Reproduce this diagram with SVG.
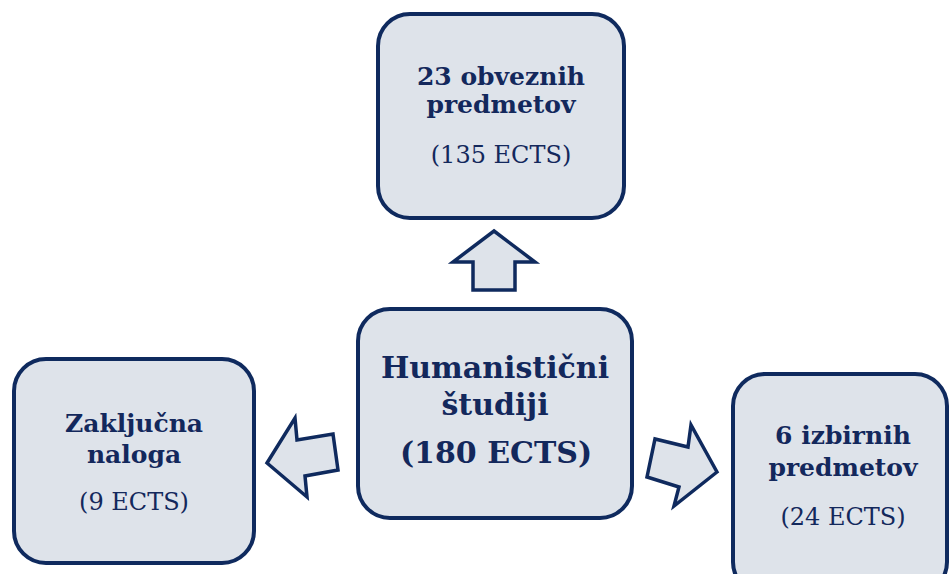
<svg xmlns="http://www.w3.org/2000/svg" width="950" height="574" viewBox="0 0 950 574">
<style>
.box{fill:#dee3ea;stroke:#0f2a5e;stroke-width:4}
.arr{fill:#dee3ea;stroke:#0f2a5e;stroke-width:3.5;stroke-linejoin:miter}
text{font-family:"DejaVu Serif","Liberation Serif",serif;fill:#13285c;text-anchor:middle}
.b{font-weight:bold;font-size:25px}
.r{font-size:24px}
.c{font-weight:bold;font-size:30px}
</style>
<rect width="950" height="574" fill="#ffffff"/>
<g id="connectors">
<polygon class="arr" points="494,231 535,262 515,262 515,290 473,290 473,262 453,262"/>
<polygon class="arr" points="267,463 295,418 297,440 333,434 338,470 305,476 307,497"/>
<polygon class="arr" points="717,472 674,506 679,487 647,477 655,439 688,447 691,425"/>
</g>
<g id="node-top">
<rect class="box" x="378" y="14" width="246" height="204" rx="32"/>
<text class="b" x="501" y="85">23 obveznih</text>
<text class="b" x="501" y="113">predmetov</text>
<text class="r" x="501" y="163">(135 ECTS)</text>
</g>
<g id="node-center">
<rect class="box" x="358" y="309" width="274" height="209" rx="32"/>
<text class="c" x="495" y="378">Humanistični</text>
<text class="c" x="495" y="415">študiji</text>
<text class="c" x="496" y="463" font-size="27">(180 ECTS)</text>
</g>
<g id="node-left">
<rect class="box" x="14" y="359" width="240" height="204" rx="32"/>
<text class="b" x="134" y="432">Zaključna</text>
<text class="b" x="134" y="463">naloga</text>
<text class="r" x="134" y="510">(9 ECTS)</text>
</g>
<g id="node-right">
<rect class="box" x="733" y="374" width="214" height="220" rx="32"/>
<text class="b" x="843" y="444">6 izbirnih</text>
<text class="b" x="843" y="476">predmetov</text>
<text class="r" x="843" y="525">(24 ECTS)</text>
</g>
</svg>
